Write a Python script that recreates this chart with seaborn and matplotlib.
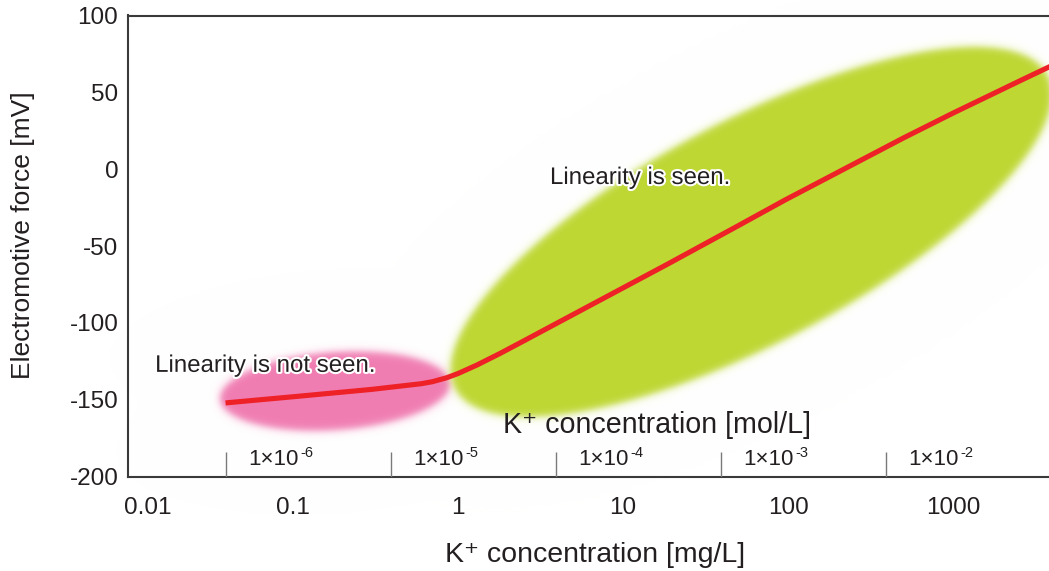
import numpy as np
import pandas as pd
import matplotlib
matplotlib.use("Agg")
import matplotlib.pyplot as plt
import matplotlib.patheffects as pe
import matplotlib.transforms as mtransforms
from matplotlib.ticker import FixedLocator, FixedFormatter, LogLocator, NullFormatter
import seaborn as sns

# ---------------- data ----------------
conc_mg = [0.039, 0.1, 0.3, 0.6, 0.7, 0.85, 1.0, 1.3, 1.8, 2.5, 3.53, 10, 18.5, 50, 96, 500, 1000, 2600, 3900]
emf_mv = [-152, -148, -143.2, -139.5, -138.2, -135.7, -132.9, -127.4, -119.8, -111.7, -103.1,
          -77.2, -61.9, -36.7, -20, 20.3, 36.5, 58, 67]

x_ticks = [0.01, 0.1, 1, 10, 100, 1000]
x_ticklabels = ["0.01", "0.1", "1", "10", "100", "1000"]
y_ticks = [-200, -150, -100, -50, 0, 50, 100]

mol_ticks_mg = [0.0391, 0.391, 3.91, 39.1, 391]          # 1e-6 ... 1e-2 mol/L of K+
mol_base = "1×10"
mol_exps = ["-6", "-5", "-4", "-3", "-2"]

# ---------------- style ----------------
sns.set_theme(style="white")
plt.rcParams["font.family"] = ["Liberation Sans", "DejaVu Sans"]
plt.rcParams["axes.unicode_minus"] = False
TXT = "#231f20"
plt.rcParams["text.color"] = TXT
plt.rcParams["axes.labelcolor"] = TXT
plt.rcParams["xtick.color"] = "#7a7a7a"
plt.rcParams["ytick.color"] = "#7a7a7a"
plt.rcParams["xtick.labelcolor"] = TXT
plt.rcParams["ytick.labelcolor"] = TXT

W, H = 1049, 571
fig = plt.figure(figsize=(W / 100, H / 100), dpi=100)
fig.patch.set_facecolor("white")

ax_bg = fig.add_axes([0, 0, 1, 1], zorder=0)
ax_bg.set_axis_off()

ax = fig.add_axes([128 / W, (H - 476.7) / H, 1 - 128 / W, (476.7 - 15.5) / H], zorder=1)
ax.set_facecolor("none")

df = pd.DataFrame({"conc": conc_mg, "emf": emf_mv})
sns.lineplot(data=df, x="conc", y="emf", ax=ax, color="#ee2127", lw=3.7,
             solid_capstyle="butt", solid_joinstyle="round", zorder=5)

ax.set_xscale("log")
ax.set_xlim(0.01, 10 ** (-2 + 921 / 165))
ax.set_ylim(-200, 100)

ax.xaxis.set_major_locator(FixedLocator(x_ticks))
ax.xaxis.set_major_formatter(FixedFormatter(x_ticklabels))
ax.xaxis.set_minor_locator(LogLocator(base=10, subs=np.arange(2, 10)))
ax.xaxis.set_minor_formatter(NullFormatter())
ax.set_yticks(y_ticks)

ax.tick_params(axis="x", which="major", direction="out", length=5.5, width=1, pad=9, labelsize=17.5)
ax.tick_params(axis="x", which="minor", direction="out", length=3.5, width=0.8)
ax.tick_params(axis="y", which="major", direction="in", length=6.5, width=1, pad=7, labelsize=17.5)
ax.tick_params(axis="y", which="minor", left=False)

for s in ["left", "bottom", "top"]:
    ax.spines[s].set_visible(True)
    ax.spines[s].set_color("#3a3a3a")
    ax.spines[s].set_linewidth(1.5)
ax.spines["right"].set_visible(False)

# shift first x label off the spine
fig.canvas.draw()
lbl0 = ax.get_xticklabels()[0]
lbl0.set_transform(lbl0.get_transform() + mtransforms.ScaledTranslation(0.195, 0, fig.dpi_scale_trans))

ax.set_xlabel("K⁺ concentration [mg/L]", fontsize=20.5)
ax.xaxis.set_label_coords((595 - 128) / 921, (476.7 - 542) / 461.2)
ax.set_ylabel("Electromotive force [mV]", fontsize=19)
ax.yaxis.set_label_coords((35 - 128) / 921, (476.7 - 235) / 461.2)

# mol/L secondary scale drawn inside the axes
ax.vlines(mol_ticks_mg, -200, -184, colors="#7a7a7a", lw=1, zorder=4)
for m, ex in zip(mol_ticks_mg, mol_exps):
    xa = m * 10 ** (73 / 165)
    ax.text(xa, -192.3, mol_base, ha="right", va="baseline", fontsize=16, color=TXT)
    ax.text(xa * 10 ** (1.5 / 165), -187.2, ex, ha="left", va="baseline", fontsize=10.5, color=TXT)
ax.text(15.96, -171.6, "K⁺ concentration [mol/L]", ha="center", va="baseline", fontsize=20.6, color=TXT)

halo = [pe.withStroke(linewidth=3, foreground="white")]
ax.text(0.0146, -131.8, "Linearity is not seen.", ha="left", va="baseline", fontsize=17.3,
        color=TXT, path_effects=halo, zorder=6)
ax.text(3.61, -9.6, "Linearity is seen.", ha="left", va="baseline", fontsize=17.3,
        color=TXT, path_effects=halo, zorder=6)

# ---------------- blurred ellipses (background) ----------------
def blob(cx_data, cy_data, a, b, ang_deg, sharp):
    px, py = ax.transData.transform((cx_data, cy_data))
    py = H - py
    X, Y = np.meshgrid(np.arange(W) + 0.5, np.arange(H) + 0.5)
    t = np.deg2rad(ang_deg)
    dx, dy = X - px, Y - py
    u = dx * np.cos(t) - dy * np.sin(t)
    v = dx * np.sin(t) + dy * np.cos(t)
    r = np.sqrt((u / a) ** 2 + (v / b) ** 2) + 1e-9
    g = np.sqrt(u ** 2 / a ** 4 + v ** 2 / b ** 4) / r + 1e-9
    d = (r - 1) / g
    return 0.5 * (1 - np.tanh(d / sharp))

img = np.ones((H, W, 3))
pink = np.array([240, 125, 178]) / 255
green = np.array([190, 215, 50]) / 255
ap = blob(0.18, -144.3, 115, 39, 4, 4.5)[..., None]
img = img * (1 - ap) + pink * ap
ag = blob(59.9, -40.7, 335, 111, 27.9, 4.5)[..., None]
img = img * (1 - ag) + green * ag
ax_bg.imshow(img, extent=(0, W, H, 0), aspect="auto", interpolation="bilinear")
ax_bg.set_xlim(0, W)
ax_bg.set_ylim(H, 0)

fig.savefig("out.png", dpi=100)
